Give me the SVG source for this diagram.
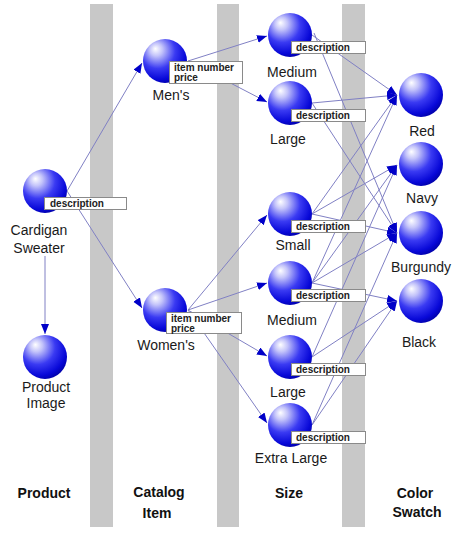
<svg xmlns="http://www.w3.org/2000/svg" width="474" height="533" viewBox="0 0 474 533">
<defs>
<radialGradient id="ball" cx="0.38" cy="0.32" r="0.72" fx="0.28" fy="0.22">
<stop offset="0" stop-color="#ffffff"/>
<stop offset="0.2" stop-color="#c4c4fa"/>
<stop offset="0.55" stop-color="#3a3af2"/>
<stop offset="0.85" stop-color="#0808d8"/>
<stop offset="1" stop-color="#0000a8"/>
</radialGradient>
<marker id="arr" markerUnits="userSpaceOnUse" markerWidth="11" markerHeight="9" refX="10" refY="4" orient="auto">
<path d="M0,0 L10,4 L0,8 z" fill="#0000c8"/>
</marker>
<style>
.bar{fill:#c8c8c8}
.ball{fill:url(#ball)}
.lbl{font-family:"Liberation Sans",Arial,sans-serif;font-size:14px;fill:#1a1a1a;text-anchor:middle}
.hd{font-family:"Liberation Sans",Arial,sans-serif;font-size:14px;font-weight:bold;fill:#111;text-anchor:middle}
.box{fill:#ffffff;stroke:#8a8a8a;stroke-width:1}
.att{font-family:"Liberation Sans",Arial,sans-serif;font-size:10px;font-weight:bold;fill:#222}
#connectors line{stroke:#8080c4;stroke-width:1;marker-end:url(#arr)}
</style>
</defs>
<rect width="474" height="533" fill="#ffffff"/>
<g id="columns">
<rect class="bar" x="90" y="4" width="23" height="523"/>
<rect class="bar" x="217" y="4" width="22" height="523"/>
<rect class="bar" x="342" y="4" width="23" height="523"/>
<text class="hd" x="44" y="498">Product</text>
<text class="hd" x="159" y="497">Catalog</text>
<text class="hd" x="157" y="518">Item</text>
<text class="hd" x="289" y="498">Size</text>
<text class="hd" x="415" y="498">Color</text>
<text class="hd" x="417" y="517">Swatch</text>
</g>
<g id="connectors">
<line x1="67" y1="191" x2="142" y2="63"/>
<line x1="67" y1="191" x2="142" y2="308"/>
<line x1="45" y1="256" x2="45" y2="334"/>
<line x1="188" y1="61" x2="267" y2="36"/>
<line x1="188" y1="61" x2="267" y2="102"/>
<line x1="188" y1="310" x2="267" y2="215"/>
<line x1="188" y1="310" x2="267" y2="283"/>
<line x1="188" y1="310" x2="267" y2="356"/>
<line x1="188" y1="310" x2="267" y2="423"/>
<line x1="312" y1="35" x2="397" y2="95"/>
<line x1="314" y1="33" x2="397" y2="233"/>
<line x1="312" y1="103" x2="397" y2="95"/>
<line x1="312" y1="103" x2="397" y2="233"/>
<line x1="312" y1="214" x2="397" y2="95"/>
<line x1="312" y1="214" x2="397" y2="165"/>
<line x1="312" y1="214" x2="397" y2="233"/>
<line x1="312" y1="283" x2="397" y2="95"/>
<line x1="312" y1="283" x2="397" y2="165"/>
<line x1="312" y1="283" x2="397" y2="233"/>
<line x1="312" y1="283" x2="397" y2="301"/>
<line x1="312" y1="357" x2="397" y2="165"/>
<line x1="312" y1="357" x2="397" y2="301"/>
<line x1="312" y1="425" x2="397" y2="233"/>
<line x1="312" y1="425" x2="397" y2="301"/>
</g>
<g id="cardigan">
<circle class="ball" cx="45" cy="191" r="22"/>
<rect class="box" x="44.5" y="197.5" width="82" height="12"/>
<text class="att" x="50" y="207">description</text>
<text class="lbl" x="39" y="235">Cardigan</text>
<text class="lbl" x="39" y="253">Sweater</text>
</g>
<g id="product-image">
<circle class="ball" cx="45" cy="357" r="22"/>
<text class="lbl" x="46" y="392">Product</text>
<text class="lbl" x="46" y="408">Image</text>
</g>
<g id="mens">
<circle class="ball" cx="165" cy="61" r="22"/>
<rect class="box" x="169.5" y="61.5" width="73" height="22"/>
<text class="att" x="174" y="71">item number</text>
<text class="att" x="174" y="81">price</text>
<text class="lbl" x="171" y="100">Men's</text>
</g>
<g id="womens">
<circle class="ball" cx="165" cy="310" r="22"/>
<rect class="box" x="166.5" y="312.5" width="75" height="21"/>
<text class="att" x="171" y="322">item number</text>
<text class="att" x="171" y="332">price</text>
<text class="lbl" x="166" y="350">Women's</text>
</g>
<g id="medium-men">
<circle class="ball" cx="290" cy="35" r="22"/>
<rect class="box" x="291.5" y="41.5" width="74" height="12"/>
<text class="att" x="296" y="51">description</text>
<text class="lbl" x="292" y="77">Medium</text>
</g>
<g id="large-men">
<circle class="ball" cx="290" cy="103" r="22"/>
<rect class="box" x="291.5" y="109.5" width="74" height="12"/>
<text class="att" x="296" y="119">description</text>
<text class="lbl" x="288" y="144">Large</text>
</g>
<g id="small">
<circle class="ball" cx="290" cy="214" r="22"/>
<rect class="box" x="291.5" y="220.5" width="74" height="12"/>
<text class="att" x="296" y="230">description</text>
<text class="lbl" x="293" y="250">Small</text>
</g>
<g id="medium-women">
<circle class="ball" cx="290" cy="283" r="22"/>
<rect class="box" x="291.5" y="289.5" width="74" height="12"/>
<text class="att" x="296" y="299">description</text>
<text class="lbl" x="292" y="325">Medium</text>
</g>
<g id="large-women">
<circle class="ball" cx="290" cy="357" r="22"/>
<rect class="box" x="291.5" y="363.5" width="74" height="12"/>
<text class="att" x="296" y="373">description</text>
<text class="lbl" x="288" y="397">Large</text>
</g>
<g id="extra-large">
<circle class="ball" cx="290" cy="425" r="22"/>
<rect class="box" x="291.5" y="431.5" width="74" height="12"/>
<text class="att" x="296" y="441">description</text>
<text class="lbl" x="291" y="463">Extra Large</text>
</g>
<g id="red">
<circle class="ball" cx="421" cy="95" r="22"/>
<text class="lbl" x="422" y="136">Red</text>
</g>
<g id="navy">
<circle class="ball" cx="421" cy="164" r="22"/>
<text class="lbl" x="422" y="203">Navy</text>
</g>
<g id="burgundy">
<circle class="ball" cx="421" cy="233" r="22"/>
<text class="lbl" x="421" y="272">Burgundy</text>
</g>
<g id="black">
<circle class="ball" cx="421" cy="301" r="22"/>
<text class="lbl" x="419" y="347">Black</text>
</g>
</svg>
